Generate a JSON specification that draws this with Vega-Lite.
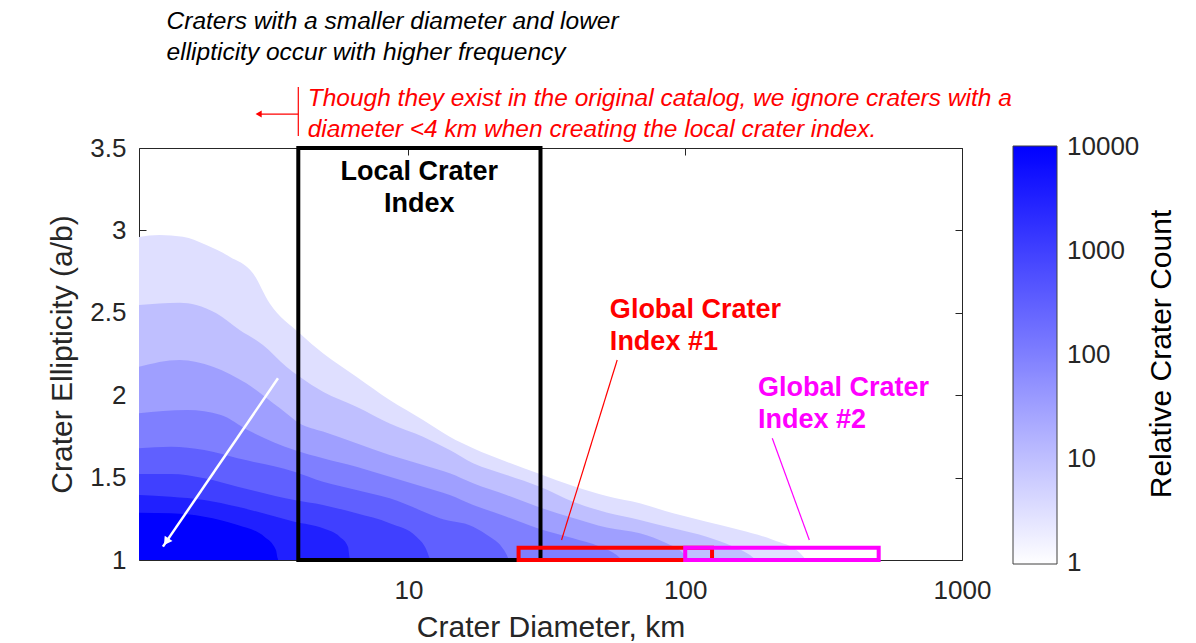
{
  "$schema": "https://vega.github.io/schema/vega-lite/v6.json",
  "width": 823,
  "height": 412,
  "autosize": {"type": "none"},
  "padding": {"left": 139, "top": 148, "right": 234, "bottom": 83},
  "background": "white",
  "config": {
    "font": "Liberation Sans",
    "view": {"stroke": "#262626", "strokeWidth": 1},
    "axis": {"zindex": 1, "grid": false, "domain": false, "tickColor": "#262626", "tickSize": -7, "labelColor": "#262626", "labelFontSize": 26, "titleColor": "#262626", "titleFontSize": 30, "titleFontWeight": "normal", "labelFont": "Liberation Sans", "titleFont": "Liberation Sans"}
  },
  "datasets": {
    "bands": [
      {"level": 3.162, "d": 1.063, "e": 2.960}, {"level": 3.162, "d": 1.261, "e": 2.972}, {"level": 3.162, "d": 1.531, "e": 2.962}, {"level": 3.162, "d": 1.861, "e": 2.911}, {"level": 3.162, "d": 2.259, "e": 2.840}, {"level": 3.162, "d": 2.743, "e": 2.740}, {"level": 3.162, "d": 3.151, "e": 2.558}, {"level": 3.162, "d": 4.046, "e": 2.376}, {"level": 3.162, "d": 4.912, "e": 2.254}, {"level": 3.162, "d": 6.486, "e": 2.112}, {"level": 3.162, "d": 8.557, "e": 1.971}, {"level": 3.162, "d": 11.29, "e": 1.850}, {"level": 3.162, "d": 14.10, "e": 1.748}, {"level": 3.162, "d": 17.13, "e": 1.678}, {"level": 3.162, "d": 22.61, "e": 1.596}, {"level": 3.162, "d": 29.84, "e": 1.522}, {"level": 3.162, "d": 39.36, "e": 1.449}, {"level": 3.162, "d": 51.97, "e": 1.388}, {"level": 3.162, "d": 68.58, "e": 1.344}, {"level": 3.162, "d": 90.49, "e": 1.283}, {"level": 3.162, "d": 119.5, "e": 1.232}, {"level": 3.162, "d": 157.7, "e": 1.182}, {"level": 3.162, "d": 208.1, "e": 1.121}, {"level": 3.162, "d": 259.8, "e": 1.042}, {"level": 3.162, "d": 273.2, "e": 1.0},
      {"level": 10, "d": 1.063, "e": 2.547}, {"level": 10, "d": 1.490, "e": 2.561}, {"level": 10, "d": 1.712, "e": 2.547}, {"level": 10, "d": 2.023, "e": 2.497}, {"level": 10, "d": 2.455, "e": 2.396}, {"level": 10, "d": 2.981, "e": 2.305}, {"level": 10, "d": 3.622, "e": 2.173}, {"level": 10, "d": 4.046, "e": 2.112}, {"level": 10, "d": 4.912, "e": 2.021}, {"level": 10, "d": 6.486, "e": 1.930}, {"level": 10, "d": 8.557, "e": 1.829}, {"level": 10, "d": 11.29, "e": 1.748}, {"level": 10, "d": 14.10, "e": 1.667}, {"level": 10, "d": 17.13, "e": 1.587}, {"level": 10, "d": 22.61, "e": 1.516}, {"level": 10, "d": 29.84, "e": 1.445}, {"level": 10, "d": 39.36, "e": 1.354}, {"level": 10, "d": 51.97, "e": 1.288}, {"level": 10, "d": 68.58, "e": 1.243}, {"level": 10, "d": 90.49, "e": 1.192}, {"level": 10, "d": 119.5, "e": 1.141}, {"level": 10, "d": 149.2, "e": 1.081}, {"level": 10, "d": 171.4, "e": 1.030}, {"level": 10, "d": 180.1, "e": 1.0},
      {"level": 31.62, "d": 1.063, "e": 2.173}, {"level": 31.62, "d": 1.490, "e": 2.214}, {"level": 31.62, "d": 1.966, "e": 2.173}, {"level": 31.62, "d": 2.596, "e": 2.072}, {"level": 31.62, "d": 3.426, "e": 1.922}, {"level": 31.62, "d": 4.046, "e": 1.829}, {"level": 31.62, "d": 4.912, "e": 1.779}, {"level": 31.62, "d": 6.486, "e": 1.708}, {"level": 31.62, "d": 8.557, "e": 1.637}, {"level": 31.62, "d": 11.29, "e": 1.576}, {"level": 31.62, "d": 14.10, "e": 1.526}, {"level": 31.62, "d": 17.13, "e": 1.465}, {"level": 31.62, "d": 22.61, "e": 1.394}, {"level": 31.62, "d": 29.84, "e": 1.319}, {"level": 31.62, "d": 39.36, "e": 1.255}, {"level": 31.62, "d": 51.97, "e": 1.197}, {"level": 31.62, "d": 68.58, "e": 1.162}, {"level": 31.62, "d": 85.66, "e": 1.101}, {"level": 31.62, "d": 98.35, "e": 1.041}, {"level": 31.62, "d": 103.1, "e": 1.0},
      {"level": 100, "d": 1.063, "e": 1.890}, {"level": 100, "d": 1.592, "e": 1.910}, {"level": 100, "d": 2.101, "e": 1.880}, {"level": 100, "d": 2.624, "e": 1.789}, {"level": 100, "d": 3.871, "e": 1.667}, {"level": 100, "d": 4.912, "e": 1.617}, {"level": 100, "d": 6.486, "e": 1.566}, {"level": 100, "d": 8.557, "e": 1.505}, {"level": 100, "d": 11.29, "e": 1.445}, {"level": 100, "d": 14.10, "e": 1.394}, {"level": 100, "d": 17.13, "e": 1.334}, {"level": 100, "d": 22.61, "e": 1.263}, {"level": 100, "d": 29.84, "e": 1.188}, {"level": 100, "d": 39.36, "e": 1.132}, {"level": 100, "d": 49.16, "e": 1.081}, {"level": 100, "d": 56.49, "e": 1.030}, {"level": 100, "d": 59.03, "e": 1.0},
      {"level": 316.2, "d": 1.063, "e": 1.678}, {"level": 316.2, "d": 1.386, "e": 1.687}, {"level": 316.2, "d": 1.830, "e": 1.667}, {"level": 316.2, "d": 2.415, "e": 1.617}, {"level": 316.2, "d": 3.871, "e": 1.536}, {"level": 316.2, "d": 4.912, "e": 1.475}, {"level": 316.2, "d": 6.486, "e": 1.425}, {"level": 316.2, "d": 8.557, "e": 1.374}, {"level": 316.2, "d": 11.29, "e": 1.295}, {"level": 316.2, "d": 12.98, "e": 1.253}, {"level": 316.2, "d": 17.13, "e": 1.202}, {"level": 316.2, "d": 19.67, "e": 1.141}, {"level": 316.2, "d": 21.69, "e": 1.081}, {"level": 316.2, "d": 22.67, "e": 1.030}, {"level": 316.2, "d": 23.05, "e": 1.0},
      {"level": 1000, "d": 1.063, "e": 1.522}, {"level": 1000, "d": 1.386, "e": 1.522}, {"level": 1000, "d": 1.830, "e": 1.496}, {"level": 1000, "d": 2.415, "e": 1.445}, {"level": 1000, "d": 3.871, "e": 1.364}, {"level": 1000, "d": 4.912, "e": 1.334}, {"level": 1000, "d": 6.486, "e": 1.283}, {"level": 1000, "d": 8.557, "e": 1.223}, {"level": 1000, "d": 10.69, "e": 1.141}, {"level": 1000, "d": 11.62, "e": 1.061}, {"level": 1000, "d": 11.94, "e": 1.010}, {"level": 1000, "d": 12.04, "e": 1.0},
      {"level": 3162, "d": 1.063, "e": 1.394}, {"level": 3162, "d": 1.386, "e": 1.384}, {"level": 3162, "d": 1.830, "e": 1.364}, {"level": 3162, "d": 2.415, "e": 1.323}, {"level": 3162, "d": 3.871, "e": 1.232}, {"level": 3162, "d": 4.912, "e": 1.192}, {"level": 3162, "d": 5.644, "e": 1.141}, {"level": 3162, "d": 6.048, "e": 1.081}, {"level": 3162, "d": 6.136, "e": 1.010}, {"level": 3162, "d": 6.161, "e": 1.0},
      {"level": 10000, "d": 1.063, "e": 1.287}, {"level": 10000, "d": 1.386, "e": 1.283}, {"level": 10000, "d": 1.830, "e": 1.263}, {"level": 10000, "d": 2.415, "e": 1.212}, {"level": 10000, "d": 3.016, "e": 1.141}, {"level": 10000, "d": 3.321, "e": 1.061}, {"level": 10000, "d": 3.369, "e": 1.010}, {"level": 10000, "d": 3.383, "e": 1.0}
    ],
    "boxes": [
      {"box": "local", "d": 4, "d2": 30, "e": 1, "e2": 3.5},
      {"box": "global1", "d": 25, "d2": 125, "e": 1, "e2": 1.075},
      {"box": "global2", "d": 100, "d2": 500, "e": 1, "e2": 1.075}
    ],
    "lines": [
      {"box": "global1", "d": 56.78, "e": 2.2136, "d2": 35.74, "e2": 1.1214},
      {"box": "global2", "d": 206.3, "e": 1.7385, "d2": 280.8, "e2": 1.1214},
      {"box": "note", "d": 4.0, "e": 3.870, "d2": 4.0, "e2": 3.573},
      {"box": "note", "d": 4.0, "e": 3.706, "d2": 2.85, "e2": 3.706}
    ],
    "labels": [
      {"box": "global1", "d": 53.43, "e": 2.517, "t": "Global Crater"},
      {"box": "global1", "d": 53.43, "e": 2.323, "t": "Index #1"},
      {"box": "global2", "d": 183.1, "e": 2.044, "t": "Global Crater"},
      {"box": "global2", "d": 183.1, "e": 1.850, "t": "Index #2"}
    ]
  },
  "resolve": {"axis": {"x": "independent", "y": "independent"}},
  "layer": [
    {
      "data": {"name": "bands"},
      "mark": {"type": "area", "interpolate": "monotone"},
      "encoding": {
        "x": {"field": "d", "type": "quantitative", "scale": {"type": "log", "domain": [1.063, 1000], "nice": false}, "axis": {"orient": "bottom", "values": [10, 100, 1000], "format": "d", "title": "Crater Diameter, km", "labelPadding": 24, "titlePadding": 9, "labelFlush": false}},
        "y": {"field": "e", "type": "quantitative", "stack": null, "scale": {"domain": [1, 3.5], "nice": false, "zero": false}, "axis": {"orient": "left", "values": [1, 1.5, 2, 2.5, 3, 3.5], "format": "~g", "title": "Crater Ellipticity (a/b)", "labelPadding": 20, "titlePadding": 12, "labelFlush": false}},
        "y2": {"datum": 1},
        "color": {"field": "level", "type": "quantitative", "scale": {"type": "log", "domain": [0.977, 10233], "range": ["#ffffff", "#0000ff"], "interpolate": "rgb"},
          "legend": {"orient": "none", "legendX": 874, "legendY": -2, "direction": "vertical", "gradientLength": 418, "gradientThickness": 44, "gradientStrokeColor": "#404040", "gradientStrokeWidth": 1, "values": [1, 10, 100, 1000, 10000], "format": "d", "labelFontSize": 26, "labelColor": "#262626", "labelOffset": 10, "labelBaseline": "middle", "labelOverlap": false, "title": null}},
        "detail": {"field": "level", "type": "quantitative"}
      }
    },
    {
      "data": {"values": [{"d": 3.378, "e": 2.1025, "d2": 1.297, "e2": 1.081}]},
      "mark": {"type": "rule", "color": "white", "strokeWidth": 2.5},
      "encoding": {
        "x": {"field": "d", "type": "quantitative", "axis": null},
        "y": {"field": "e", "type": "quantitative", "axis": null},
        "x2": {"field": "d2"},
        "y2": {"field": "e2"}
      }
    },
    {
      "data": {"values": [{"d": 1.334, "e": 1.111}]},
      "mark": {"type": "point", "shape": "triangle-up", "filled": true, "color": "white", "opacity": 1, "size": 90, "angle": 214.3},
      "encoding": {
        "x": {"field": "d", "type": "quantitative", "axis": null},
        "y": {"field": "e", "type": "quantitative", "axis": null}
      }
    },
    {
      "data": {"name": "boxes"},
      "mark": {"type": "rect", "fillOpacity": 0, "strokeWidth": 4},
      "encoding": {
        "x": {"field": "d", "type": "quantitative", "axis": null},
        "x2": {"field": "d2"},
        "y": {"field": "e", "type": "quantitative", "axis": null},
        "y2": {"field": "e2"},
        "stroke": {"field": "box", "type": "nominal", "scale": {"domain": ["local", "global1", "global2", "note"], "range": ["#000000", "#ff0000", "#ff00ff", "#ff0000"]}, "legend": null}
      }
    },
    {
      "data": {"name": "lines"},
      "mark": {"type": "rule", "strokeWidth": 1.2},
      "encoding": {
        "x": {"field": "d", "type": "quantitative", "axis": null},
        "y": {"field": "e", "type": "quantitative", "axis": null},
        "x2": {"field": "d2"},
        "y2": {"field": "e2"},
        "stroke": {"field": "box", "type": "nominal", "legend": null}
      }
    },
    {
      "data": {"values": [{"d": 2.876, "e": 3.706}]},
      "mark": {"type": "point", "shape": "triangle-left", "filled": true, "color": "#ff0000", "opacity": 1, "size": 50},
      "encoding": {
        "x": {"field": "d", "type": "quantitative", "axis": null},
        "y": {"field": "e", "type": "quantitative", "axis": null}
      }
    },
    {
      "data": {"values": [
        {"d": 1.337, "e": 4.2646, "t": "Craters with a smaller diameter and lower"},
        {"d": 1.337, "e": 4.0765, "t": "ellipticity occur with higher frequency"}
      ]},
      "mark": {"type": "text", "align": "left", "baseline": "middle", "fontSize": 24.5, "fontStyle": "italic", "color": "#000000"},
      "encoding": {
        "x": {"field": "d", "type": "quantitative", "axis": null},
        "y": {"field": "e", "type": "quantitative", "axis": null},
        "text": {"field": "t"}
      }
    },
    {
      "data": {"values": [
        {"d": 4.325, "e": 3.7973, "t": "Though they exist in the original catalog, we ignore craters with a"},
        {"d": 4.325, "e": 3.6092, "t": "diameter <4 km when creating the local crater index."}
      ]},
      "mark": {"type": "text", "align": "left", "baseline": "middle", "fontSize": 24.5, "fontStyle": "italic", "color": "#ff0000"},
      "encoding": {
        "x": {"field": "d", "type": "quantitative", "axis": null},
        "y": {"field": "e", "type": "quantitative", "axis": null},
        "text": {"field": "t"}
      }
    },
    {
      "data": {"values": [
        {"d": 10.94, "e": 3.354, "t": "Local Crater"},
        {"d": 10.94, "e": 3.160, "t": "Index"}
      ]},
      "mark": {"type": "text", "align": "center", "baseline": "middle", "fontSize": 27, "fontWeight": "bold", "color": "#000000"},
      "encoding": {
        "x": {"field": "d", "type": "quantitative", "axis": null},
        "y": {"field": "e", "type": "quantitative", "axis": null},
        "text": {"field": "t"}
      }
    },
    {
      "data": {"name": "labels"},
      "mark": {"type": "text", "align": "left", "baseline": "middle", "fontSize": 27, "fontWeight": "bold"},
      "encoding": {
        "x": {"field": "d", "type": "quantitative", "axis": null},
        "y": {"field": "e", "type": "quantitative", "axis": null},
        "text": {"field": "t"},
        "fill": {"field": "box", "type": "nominal", "scale": {"domain": ["local", "global1", "global2", "note"], "range": ["#000000", "#ff0000", "#ff00ff", "#ff0000"]}, "legend": null}
      }
    },
    {
      "data": {"values": [{"d": 5288, "e": 2.25, "t": "Relative Crater Count"}]},
      "mark": {"type": "text", "align": "center", "baseline": "middle", "fontSize": 30, "angle": 270, "color": "#000000"},
      "encoding": {
        "x": {"field": "d", "type": "quantitative", "axis": null},
        "y": {"field": "e", "type": "quantitative", "axis": null},
        "text": {"field": "t"}
      }
    },
    {
      "data": {"name": "boxes"},
      "mark": {"type": "rule", "opacity": 0},
      "encoding": {
        "x": {"field": "d", "type": "quantitative", "axis": {"orient": "top", "values": [10, 100, 1000], "labels": false, "title": null}},
        "y": {"field": "e", "type": "quantitative", "axis": {"orient": "right", "values": [1, 1.5, 2, 2.5, 3, 3.5], "labels": false, "title": null}}
      }
    }
  ]
}
